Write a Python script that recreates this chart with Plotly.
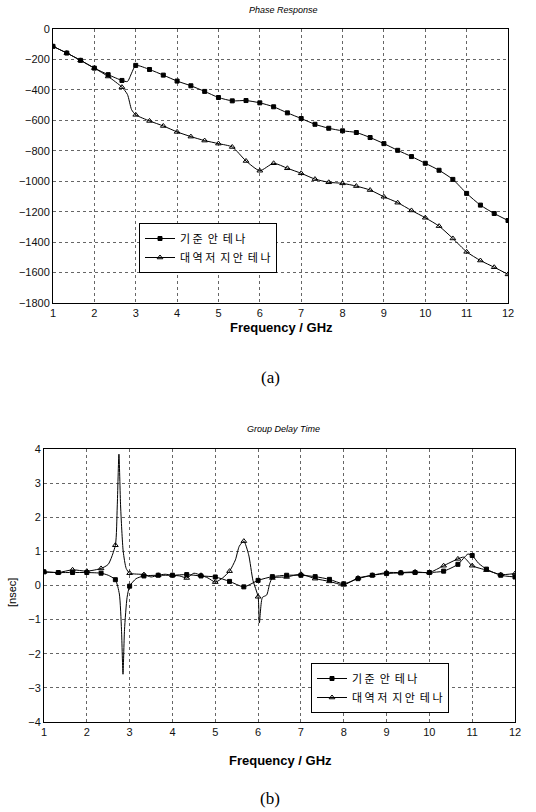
import plotly.graph_objects as go

# ---------------- data ----------------
# marker frequencies (GHz), every 1/3 GHz
freq_mk = [1 + k / 3 for k in range(34)]

# Phase response (deg) at marker points
phase_ref = [-114, -158, -206, -257, -300, -338, -239, -266, -303, -342, -373, -410,
             -450, -472, -470, -485, -511, -551, -588, -626, -652, -669, -680, -713,
             -753, -797, -838, -882, -928, -988, -1080, -1157, -1212, -1258]
phase_notch = [-114, -158, -206, -257, -312, -382, -564, -604, -637, -676, -707, -733,
               -753, -775, -867, -931, -882, -915, -948, -986, -1007, -1014, -1032, -1058,
               -1102, -1141, -1192, -1240, -1295, -1376, -1464, -1521, -1565, -1612]
# extra curve points between markers (phase)
phase_ref_xf = [2.8, 2.9]
phase_ref_yf = [-345, -290]
phase_notch_xf = [2.8, 2.9]
phase_notch_yf = [-430, -530]

# Group delay (nsec) at marker points
gd_ref = [0.40, 0.38, 0.38, 0.38, 0.36, 0.17, -0.02, 0.28, 0.30, 0.30, 0.32, 0.28,
          0.25, 0.12, -0.04, 0.15, 0.26, 0.30, 0.30, 0.26, 0.18, 0.05, 0.20, 0.30,
          0.35, 0.37, 0.38, 0.38, 0.42, 0.62, 0.88, 0.48, 0.30, 0.25]
gd_notch = [0.40, 0.38, 0.46, 0.42, 0.50, 1.18, 0.36, 0.32, 0.30, 0.30, 0.22, 0.30,
            0.10, 0.42, 1.30, -0.33, 0.22, 0.25, 0.33, 0.20, 0.12, 0.02, 0.22, 0.30,
            0.38, 0.38, 0.40, 0.38, 0.58, 0.78, 0.58, 0.45, 0.32, 0.35]
# extra curve points between markers (group delay)
gd_ref_xf = [2.5, 2.76, 2.81, 2.845, 2.88, 2.94, 3.15, 10.9, 11.15]
gd_ref_yf = [0.30, -0.25, -1.3, -2.6, -1.3, -0.35, 0.20, 0.92, 0.65]
gd_notch_xf = [2.5, 2.71, 2.75, 2.79, 2.85, 2.92, 3.5, 3.83, 4.17, 4.5, 4.83, 5.17,
               5.47, 5.56, 5.78, 5.88, 6.03, 6.1, 6.2, 6.27, 10.8]
gd_notch_yf = [0.62, 2.3, 3.85, 2.3, 1.0, 0.5, 0.25, 0.33, 0.28, 0.36, 0.22, 0.22,
               0.75, 1.15, 0.90, 0.15, -1.10, -0.35, -0.28, 0.05, 0.83]

names = ["기 준  안  테 나", "대 역 저  지 안  테 나"]
x_ticks = list(range(1, 13))


def merged(xm, ym, xf, yf):
    pts = sorted(zip(list(xm) + list(xf), list(ym) + list(yf)))
    return [p[0] for p in pts], [p[1] for p in pts]


W, H = 536, 812


def px(x):
    return x / W


def py(y):
    return 1 - y / H


fig = go.Figure()

FONT = "Liberation Sans, Arial, sans-serif"
KFONT = "Noto Sans CJK KR, sans-serif"


def add_series(xm, ym, xf, yf, xa, ya, symbol, msize, name, legend):
    lx, ly = merged(xm, ym, xf, yf)
    fig.add_trace(go.Scatter(x=lx, y=ly, mode="lines", xaxis=xa, yaxis=ya,
                             line=dict(color="black", width=1, shape="spline", smoothing=0.6),
                             showlegend=False, hoverinfo="skip"))
    fig.add_trace(go.Scatter(x=xm, y=ym, mode="markers", xaxis=xa, yaxis=ya,
                             marker=dict(symbol=symbol, size=msize, color="black",
                                         line=dict(color="black", width=1)),
                             showlegend=False))
    fig.add_trace(go.Scatter(x=[None], y=[None], mode="lines+markers", xaxis=xa, yaxis=ya,
                             name=name, legend=legend,
                             line=dict(color="black", width=1),
                             marker=dict(symbol=symbol, size=msize, color="black",
                                         line=dict(color="black", width=1))))


add_series(freq_mk, phase_ref, phase_ref_xf, phase_ref_yf, "x", "y", "square", 4, names[0], "legend")
add_series(freq_mk, phase_notch, phase_notch_xf, phase_notch_yf, "x", "y", "triangle-up-open", 5, names[1], "legend")
add_series(freq_mk, gd_ref, gd_ref_xf, gd_ref_yf, "x2", "y2", "square", 4, names[0], "legend2")
add_series(freq_mk, gd_notch, gd_notch_xf, gd_notch_yf, "x2", "y2", "triangle-up-open", 5, names[1], "legend2")

axis_common = dict(showline=True, linecolor="black", linewidth=1, mirror=True,
                   showgrid=True, gridcolor="#666", griddash="dot", gridwidth=1,
                   zeroline=False, ticks="", automargin=False,
                   tickfont=dict(family=FONT, size=11, color="#111"))

fig.update_layout(
    width=W, height=H,
    margin=dict(l=0, r=0, t=0, b=0, autoexpand=False),
    paper_bgcolor="white", plot_bgcolor="white",
    xaxis=dict(domain=[px(53), px(508)], range=[1, 12], tickvals=x_ticks, anchor="y", **axis_common),
    yaxis=dict(domain=[py(303), py(29)], range=[-1800, 0], dtick=200, anchor="x", **axis_common),
    xaxis2=dict(domain=[px(44), px(515)], range=[1, 12], tickvals=x_ticks, anchor="y2", **axis_common),
    yaxis2=dict(domain=[py(722), py(449)], range=[-4, 4], dtick=1, anchor="x2", **axis_common),
    legend=dict(x=px(139), y=py(223), xanchor="left", yanchor="top",
                bordercolor="black", borderwidth=1, bgcolor="white",
                font=dict(family=KFONT, size=11, color="black"),
                tracegroupgap=0, itemwidth=30),
    legend2=dict(x=px(311), y=py(663), xanchor="left", yanchor="top",
                 bordercolor="black", borderwidth=1, bgcolor="white",
                 font=dict(family=KFONT, size=11, color="black"),
                 tracegroupgap=0, itemwidth=30),
)

ann = [
    dict(text="<i>Phase Response</i>", x=px(283), y=py(10), size=9, fam=FONT),
    dict(text="<i>Group Delay Time</i>", x=px(283), y=py(429), size=9, fam=FONT),
    dict(text="<b>Frequency / GHz</b>", x=px(281), y=py(328), size=13, fam=FONT),
    dict(text="<b>Frequency / GHz</b>", x=px(280), y=py(760), size=13, fam=FONT),
    dict(text="(a)", x=px(270), y=py(378), size=17, fam="Liberation Serif, Times New Roman, serif"),
    dict(text="(b)", x=px(270), y=py(798), size=17, fam="Liberation Serif, Times New Roman, serif"),
]
for a in ann:
    fig.add_annotation(text=a["text"], x=a["x"], y=a["y"], xref="paper", yref="paper",
                       showarrow=False, xanchor="center", yanchor="middle",
                       font=dict(family=a["fam"], size=a["size"], color="black"))
fig.add_annotation(text="[nsec]", x=px(12), y=py(593), xref="paper", yref="paper",
                   showarrow=False, textangle=-90, xanchor="center", yanchor="middle",
                   font=dict(family=FONT, size=11, color="black"))

fig.write_html("out.html", config={"displayModeBar": False},
               post_script="document.body.style.margin='0';document.body.style.overflow='hidden';")
